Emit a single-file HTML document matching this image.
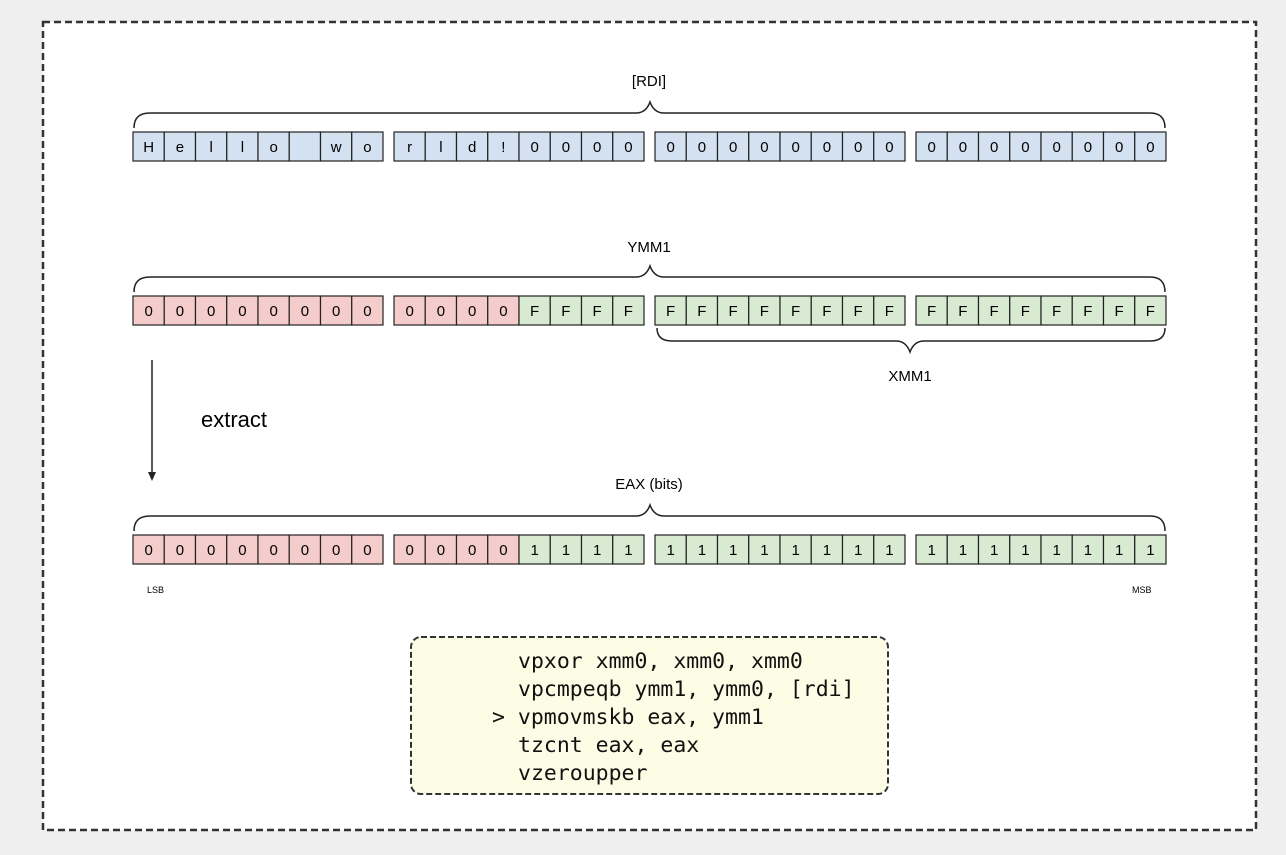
<!DOCTYPE html>
<html><head><style>
html,body{margin:0;padding:0;background:#efefef;}
svg{display:block;}
</style></head><body>
<svg width="1286" height="855" xmlns="http://www.w3.org/2000/svg" font-family="Liberation Sans, sans-serif">
<rect x="0" y="0" width="1286" height="855" fill="#efefef"/>
<rect x="43" y="22" width="1213" height="808" fill="#fff" stroke="#333" stroke-width="2.5" stroke-dasharray="7,4"/>
<g id="cells" font-size="15" text-anchor="middle" fill="#000"></g>
<g fill="none" stroke="#222" stroke-width="1.5">
<path d="M134,128 Q134,113 150,113 L636,113 Q646,113 650,102 Q654,113 664,113 L1150,113 Q1165,113 1165,128"/>
<path d="M134,292 Q134,277 150,277 L636,277 Q646,277 650,266 Q654,277 664,277 L1150,277 Q1165,277 1165,292"/>
<path d="M134,531 Q134,516 150,516 L636,516 Q646,516 650,505 Q654,516 664,516 L1150,516 Q1165,516 1165,531"/>
<path d="M657,328 Q657,341 672,341 L896,341 Q906,341 910,352 Q914,341 924,341 L1150,341 Q1165,341 1165,328"/>
<line x1="152" y1="360" x2="152" y2="474"/>
</g>
<path d="M148,472 L152,481 L156,472 Z" fill="#222"/>
<g font-size="15" text-anchor="middle" fill="#000">
<text x="649" y="86">[RDI]</text>
<text x="649" y="252">YMM1</text>
<text x="910" y="381">XMM1</text>
<text x="649" y="489">EAX (bits)</text>
</g>
<text x="201" y="427" font-size="22">extract</text>
<text x="147" y="593" font-size="9">LSB</text>
<text x="1132" y="593" font-size="9">MSB</text>
<rect x="411" y="637" width="477" height="157" rx="10" fill="#fdfde6" stroke="#333" stroke-width="2" stroke-dasharray="6,3"/>
<g font-family="DejaVu Sans Mono, Liberation Mono, monospace" font-size="21.5" fill="#111">
<text x="518" y="668">vpxor xmm0, xmm0, xmm0</text>
<text x="518" y="696">vpcmpeqb ymm1, ymm0, [rdi]</text>
<text x="492" y="724">&gt; vpmovmskb eax, ymm1</text>
<text x="518" y="752">tzcnt eax, eax</text>
<text x="518" y="780">vzeroupper</text>
</g>
</svg>
<script>
var g=document.getElementById('cells');var ns='http://www.w3.org/2000/svg';
var starts=[133,394,655,916],w=31.25;
var rows=[
{y:132,t:['H','e','l','l','o','','w','o','r','l','d','!','0','0','0','0'].concat(Array(16).fill('0')),c:Array(32).fill('#d3e1f1')},
{y:296,t:Array(12).fill('0').concat(Array(20).fill('F')),c:Array(12).fill('#f4cccc').concat(Array(20).fill('#d9ead3'))},
{y:535,t:Array(12).fill('0').concat(Array(20).fill('1')),c:Array(12).fill('#f4cccc').concat(Array(20).fill('#d9ead3'))}];
rows.forEach(function(r){for(var i=0;i<32;i++){var x=starts[Math.floor(i/8)]+(i%8)*w;
var rc=document.createElementNS(ns,'rect');rc.setAttribute('x',x);rc.setAttribute('y',r.y);rc.setAttribute('width',w);rc.setAttribute('height',29);rc.setAttribute('fill',r.c[i]);rc.setAttribute('stroke','#222');rc.setAttribute('stroke-width','1.2');g.appendChild(rc);
var t=document.createElementNS(ns,'text');t.setAttribute('x',x+w/2);t.setAttribute('y',r.y+20);t.textContent=r.t[i];g.appendChild(t);}});
</script>
</body></html>
